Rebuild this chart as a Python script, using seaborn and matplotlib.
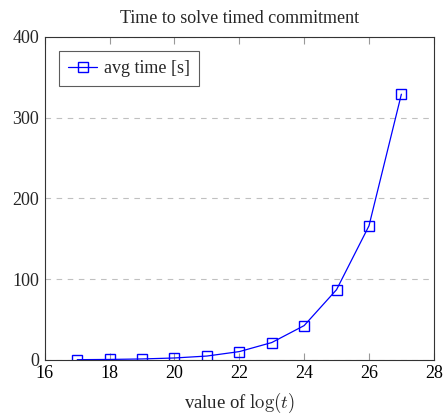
import matplotlib
matplotlib.use('Agg')
import matplotlib.pyplot as plt
import seaborn as sns
import pandas as pd

# --- Data ---
log_t = [17, 18, 19, 20, 21, 22, 23, 24, 25, 26, 27]
avg_time = [0.3, 0.6, 1.2, 2.4, 4.8, 10.3, 21.5, 42.5, 87, 166, 329]
x_ticks = [16, 18, 20, 22, 24, 26, 28]
y_ticks = [0, 100, 200, 300, 400]

df = pd.DataFrame({'log_t': log_t, 'avg_time': avg_time})

sns.set_style('white')
plt.rcParams['font.family'] = ['Liberation Serif', 'DejaVu Serif']
plt.rcParams['mathtext.fontset'] = 'cm'

fig = plt.figure(figsize=(4.44, 4.19), dpi=100)
ax = fig.add_axes([0.101, 0.141, 0.876, 0.771])

sns.lineplot(data=df, x='log_t', y='avg_time', ax=ax, color='#0000ff',
             marker='s', markersize=7, markerfacecolor='none',
             markeredgecolor='#0000ff', markeredgewidth=1.0, linewidth=0.9,
             label='avg time [s]')

ax.set_xlim(16, 28)
ax.set_ylim(0, 400)
ax.set_xticks(x_ticks)
ax.set_yticks(y_ticks)
ax.yaxis.grid(True, linestyle=(0, (5, 5)), color='#c0c0c0', linewidth=0.8)
ax.xaxis.grid(False)
ax.tick_params(axis='x', direction='in', top=True, bottom=True, length=5,
               color='#999999', labelsize=13, labelcolor='black', pad=4)
ax.tick_params(axis='y', length=0, labelsize=13, pad=4)
for s in ax.spines.values():
    s.set_color('#333333')
    s.set_linewidth(0.8)

ax.set_xlabel(r'value of $\log(t)$', fontsize=13.5, labelpad=6)
ax.set_ylabel('')
ax.set_title('Time to solve timed commitment', fontsize=13, pad=10)

leg = ax.legend(loc='upper left', fontsize=13, frameon=True, fancybox=False,
                edgecolor='#333333', handlelength=1.6, handletextpad=0.4,
                borderpad=0.5, borderaxespad=0.8)
leg.get_frame().set_linewidth(0.8)

fig.savefig('out.png', dpi=100)
